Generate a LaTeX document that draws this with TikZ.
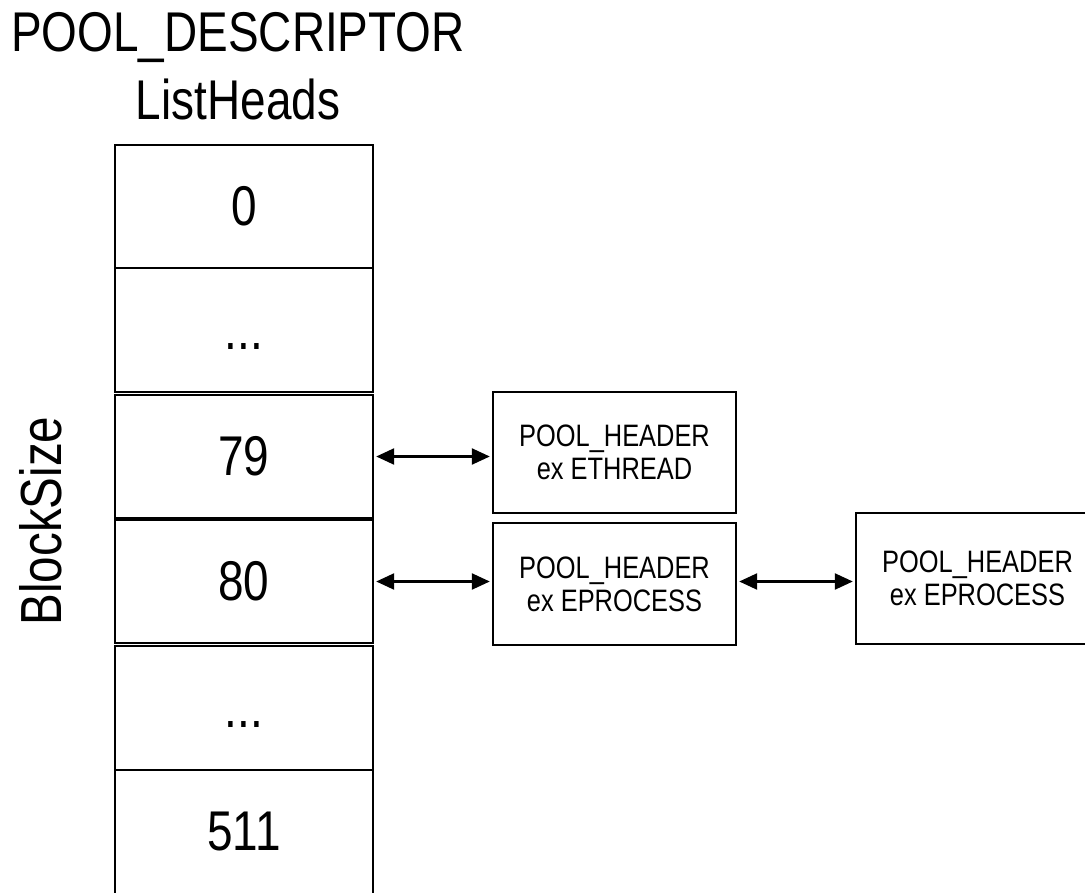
\documentclass[tikz,border=0pt]{standalone}
\usepackage{fontspec}
\newfontfamily\narrowsans{Liberation Sans}[FakeStretch=0.82]
\usetikzlibrary{arrows.meta}
\begin{document}
\begin{tikzpicture}[x=1pt,y=-1pt,
  slot/.style={draw,line width=2.4pt,minimum width=258pt,inner sep=0pt,
    font=\narrowsans\fontsize{56}{60}\selectfont},
  hdr/.style={draw,line width=2.4pt,minimum width=243pt,inner sep=0pt,align=center,
    font=\narrowsans\fontsize{31}{33}\selectfont},
  link/.style={line width=2.4pt,{Triangle[length=18pt,width=16pt]}-{Triangle[length=18pt,width=16pt]}},
  big/.style={font=\narrowsans\fontsize{56}{68}\selectfont,align=center,inner sep=0pt}]
\useasboundingbox (0,0) rectangle (1085,893);

% title
\node[big] (title) at (238,66) {POOL\_DESCRIPTOR\\ListHeads};
\node[big,rotate=90,font=\narrowsans\fontsize{58}{60}\selectfont] (bs) at (41,521) {BlockSize};

% list head slots
\node[slot,minimum height=123pt] (b0) at (244,206.5) {0};
\node[slot,minimum height=124pt] (b1) at (244,330) {\vphantom{0}...};
\node[slot,minimum height=123pt] (b2) at (244,456.5) {79};
\node[slot,minimum height=123pt] (b3) at (244,581.5) {80};
\node[slot,minimum height=124pt] (b4) at (244,708) {\vphantom{0}...};
\node[slot,minimum height=124pt] (b5) at (244,832) {511};

% pool chunks
\node[hdr,minimum height=121pt] (eth) at (614.5,452.5) {POOL\_HEADER\\ex ETHREAD};
\node[hdr,minimum height=122pt] (epr) at (614.5,584) {POOL\_HEADER\\ex EPROCESS};
\node[hdr,minimum height=131pt] (epr2) at (977.5,578.5) {POOL\_HEADER\\ex EPROCESS};

% links
\draw[link] ([xshift=2pt]b2.east) -- ([xshift=-2pt]b2.east -| eth.west);
\draw[link] ([xshift=2pt]b3.east) -- ([xshift=-2pt]b3.east -| epr.west);
\draw[link] ([xshift=2pt]epr.east |- b3.east) -- ([xshift=-2pt]b3.east -| epr2.west);
\end{tikzpicture}
\end{document}
